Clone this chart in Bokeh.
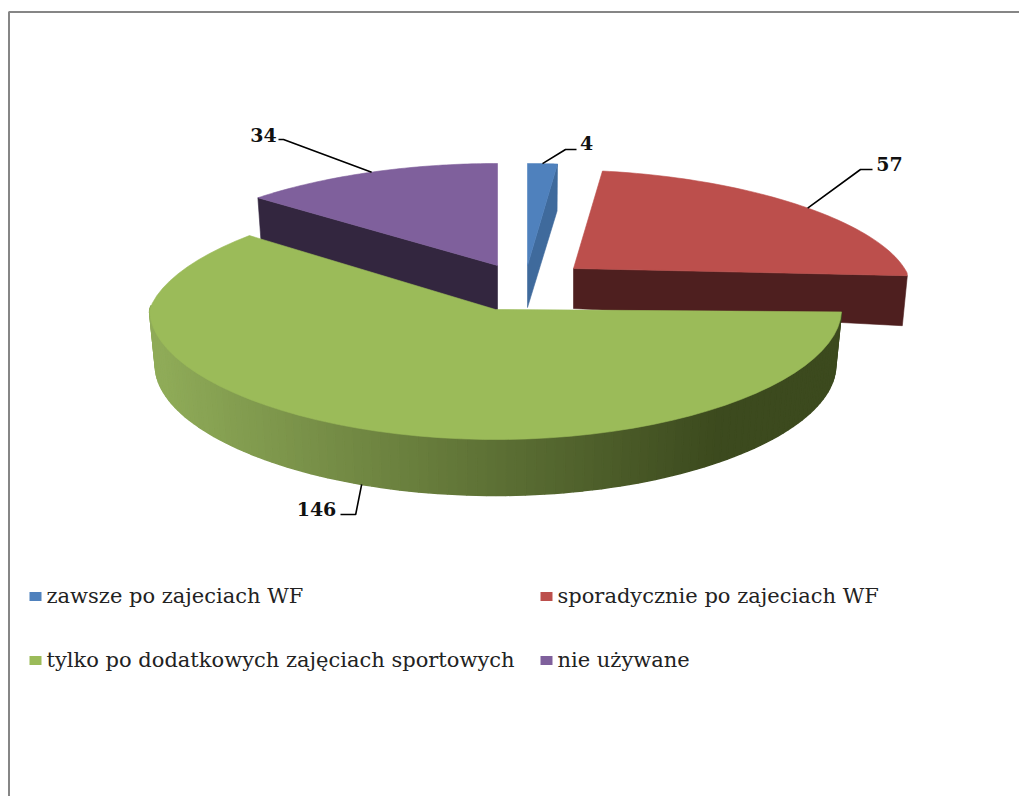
import math
from bokeh.plotting import figure
from bokeh.models import ColumnDataSource, Range1d
from bokeh.core.properties import value
from bokeh.embed import file_html
from bokeh.resources import INLINE

categories = ["zawsze po zajeciach WF", "sporadycznie po zajeciach WF",
              "tylko po dodatkowych zajęciach sportowych", "nie używane"]
values = [4, 57, 146, 34]
top_colors = ["#4F81BD", "#BC4F4C", "#9BBB59", "#7F609C"]
side_colors = ["#3F6A9C", "#4E1F1F", None, "#33263F"]

# layout of the exploded, tilted pie (x, y of each slice's apex and its size factor)
apex = [(527, 265), (573, 268), (495, 309), (497, 265)]
scale = [1.0, 0.965, 1.0, 1.0]
depth = [42, 40, 56, 45]
tilt = [0, 5, 0, 0]
ry = [116, 116, 122, 116]
rk = [14, 14, 8, 14]
pk = [0.168, 0.168, 0.13, 0.168]
label_pos = [(586, 142), (889, 163), (316, 508), (263, 134)]
leader_shift = [0, 3, 3, 0]
RX = 346

p = figure(width=1019, height=796, output_backend="svg", toolbar_location=None,
           x_range=Range1d(0, 1019), y_range=Range1d(796, 0),
           x_axis_type=None, y_axis_type=None, min_border=0,
           outline_line_color=None, background_fill_color="white")
p.grid.visible = False

total = sum(values)
edges = [0.0]
for v in values:
    edges.append(edges[-1] + v / total * 360.0)


def rim(i, deg, drop=0.0):
    t = math.radians(deg)
    X, Y = math.sin(t), -math.cos(t)
    persp = 1 + pk[i] * Y if Y < 0 else 1.0
    shrink = 1 - drop * 0.0003
    x = apex[i][0] + X * RX * scale[i] * persp * shrink
    y = apex[i][1] + Y * (ry[i] + rk[i] * Y) * scale[i] + X * tilt[i] + drop
    return x, y


def arc(a, b, n=60):
    return [a + (b - a) * k / n for k in range(n + 1)]


def mix(c1, c2, f):
    return "#%02x%02x%02x" % tuple(round(c1[k] + (c2[k] - c1[k]) * f) for k in range(3))


xs, ys, cols, lws = [], [], [], []


def add(pts, col, lw=0.6):
    xs.append([q[0] for q in pts])
    ys.append([q[1] for q in pts])
    cols.append(col)
    lws.append(lw)


# back slices: cut faces first
for i in (3, 0, 1):
    a, b = edges[i], edges[i + 1]
    ax, ay = apex[i]
    if i == 1:
        e, e2 = rim(i, b), rim(i, b, depth[i] + 10)
    elif i == 0:
        e, e2 = rim(i, b), rim(i, b, 47)
    else:
        e, e2 = rim(i, a), rim(i, a, depth[i])
    add([(ax, ay), e, e2, (ax, ay + depth[i])], side_colors[i])

# green rim side with its left-to-right shading
g = 2
angs = arc(edges[g], 272, 110)
for k in range(len(angs) - 1):
    q = [rim(g, angs[k]), rim(g, angs[k + 1]), rim(g, angs[k + 1], depth[g]), rim(g, angs[k], depth[g])]
    f = min(1, max(0, (q[0][0] - 160) / 560))
    add(q, mix((0x8F, 0xAB, 0x58), (0x3C, 0x4A, 0x1E), f), 1.5)

# top faces
for i in range(4):
    pts = [apex[i]] + [rim(i, d) for d in arc(edges[i], edges[i + 1])]
    add(pts, top_colors[i])

src = ColumnDataSource(dict(xs=xs, ys=ys, c=cols, w=lws))
p.patches("xs", "ys", source=src, fill_color="c", line_color="c", line_width="w")

# frame
p.line([8.5, 8.5, 1019], [796, 11.5, 11.5], line_color="#868686", line_width=2)

# leader lines and data labels
for i, v in enumerate(values):
    mid = (edges[i] + edges[i + 1]) / 2 + leader_shift[i]
    sx, sy = rim(i, mid, depth[i] if i == 2 else 0)
    lx, ly = label_pos[i]
    if i == 2:
        lxs, lys = [sx, sx - 6, lx + 24], [sy, ly + 6, ly + 6]
    elif i == 3:
        lxs, lys = [sx, lx + 20, lx + 15], [sy, ly + 5, ly + 5]
    elif i == 0:
        lxs, lys = [sx, lx - 21, lx - 10], [sy, ly + 7, ly + 7]
    else:
        lxs, lys = [sx, lx - 29, lx - 17], [sy, ly + 6, ly + 6]
    p.line(lxs, lys, line_color="black", line_width=1.6)
    p.text([lx], [ly], text=[str(v)], text_font=value("DejaVu Serif"),
           text_font_style="bold", text_font_size="19px", text_color="#111111",
           text_align="center", text_baseline="middle")

# legend
leg_x = [29, 540, 29, 540]
leg_y = [596, 596, 660, 660]
for i, name in enumerate(categories):
    p.rect([leg_x[i] + 6], [leg_y[i]], width=12, height=9, fill_color=top_colors[i], line_color=None)
    p.text([leg_x[i] + 17], [leg_y[i] - 1], text=[name], text_font=value("DejaVu Serif"),
           text_font_size="21px", text_color="#222222", text_align="left", text_baseline="middle")

open("out.html", "w").write(file_html(p, INLINE))
